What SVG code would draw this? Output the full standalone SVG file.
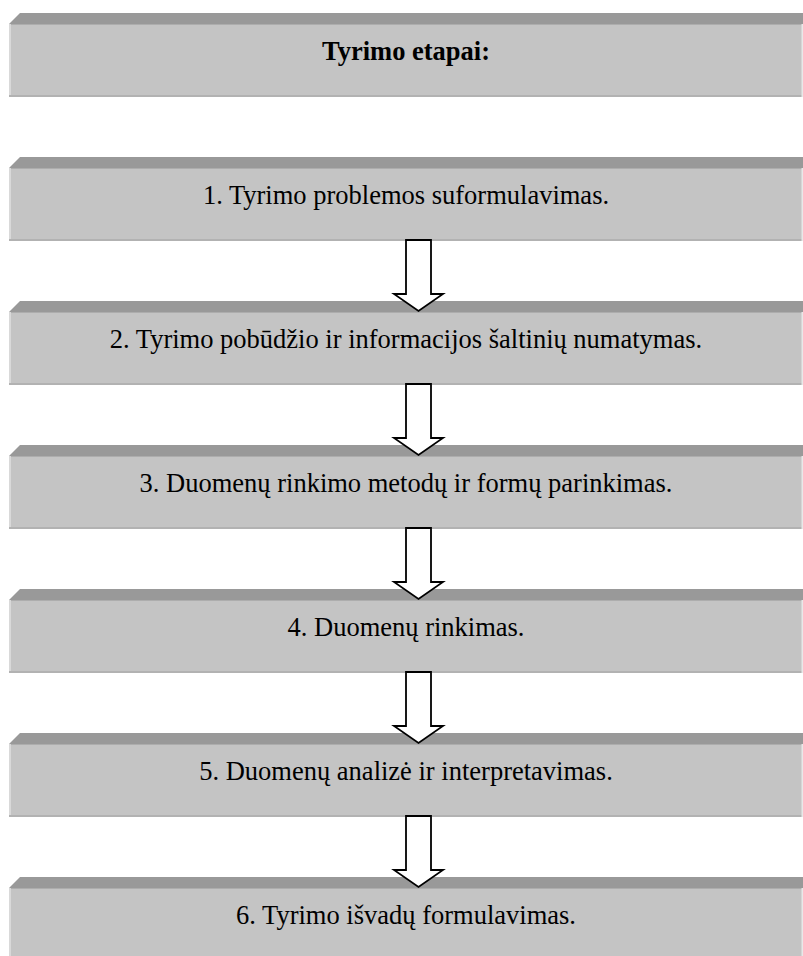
<svg xmlns="http://www.w3.org/2000/svg" xmlns:xlink="http://www.w3.org/1999/xlink" width="803" height="956" viewBox="0 0 803 956">
<style>
  .band{fill:#999999}
  .main{fill:#c4c4c4}
  .lt{fill:#d9d9d9}
  .bot{fill:#b2b2b2}
  .rt{fill:#e8e8e8}
  .seam{fill:#adadad}
  .lbl{font-family:"Liberation Serif","Times New Roman",serif;font-size:26.5px;fill:#000;text-anchor:middle}
  .hdr{font-weight:bold;font-size:26.5px}
  .arrow{fill:#ffffff;stroke:#000;stroke-width:1.8;stroke-linejoin:miter}
</style>
<defs>
  <g id="box">
    <polygon class="band" points="9,11 20,0 803,0 803,11"/>
    <rect class="main" x="9" y="11" width="794" height="73"/>
    <rect class="seam" x="9" y="11" width="794" height="1"/>
    <rect class="lt" x="9" y="11" width="2" height="73"/>
    <rect class="bot" x="9" y="82" width="794" height="2"/>
    <rect class="rt" x="801.5" y="11" width="1.5" height="73"/>
  </g>
  <path id="arr" class="arrow" d="M406,0 L431,0 L431,54 L443,54 L418.5,71 L394,54 L406,54 Z"/>
</defs>
<g id="header" transform="translate(0,13)">
  <use xlink:href="#box"/>
  <text class="lbl hdr" x="406" y="47">Tyrimo etapai:</text>
</g>
<g id="step1" transform="translate(0,157)">
  <use xlink:href="#box"/>
  <text class="lbl" x="406" y="47">1. Tyrimo problemos suformulavimas.</text>
</g>
<g id="step2" transform="translate(0,301)">
  <use xlink:href="#box"/>
  <text class="lbl" x="406" y="47">2. Tyrimo pobūdžio ir informacijos šaltinių numatymas.</text>
</g>
<g id="step3" transform="translate(0,445)">
  <use xlink:href="#box"/>
  <text class="lbl" x="406" y="47">3. Duomenų rinkimo metodų ir formų parinkimas.</text>
</g>
<g id="step4" transform="translate(0,589)">
  <use xlink:href="#box"/>
  <text class="lbl" x="406" y="47">4. Duomenų rinkimas.</text>
</g>
<g id="step5" transform="translate(0,733)">
  <use xlink:href="#box"/>
  <text class="lbl" x="406" y="47">5. Duomenų analizė ir interpretavimas.</text>
</g>
<g id="step6" transform="translate(0,877)">
  <use xlink:href="#box"/>
  <text class="lbl" x="406" y="47">6. Tyrimo išvadų formulavimas.</text>
</g>
<g id="connectors">
  <use xlink:href="#arr" transform="translate(0,240)"/>
  <use xlink:href="#arr" transform="translate(0,384)"/>
  <use xlink:href="#arr" transform="translate(0,528)"/>
  <use xlink:href="#arr" transform="translate(0,672)"/>
  <use xlink:href="#arr" transform="translate(0,816)"/>
</g>
</svg>
